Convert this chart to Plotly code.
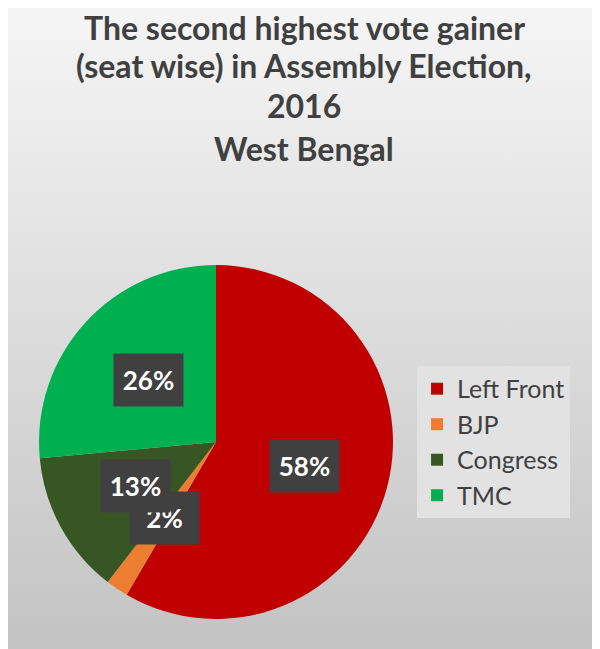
import math
import urllib.parse

import plotly.graph_objects as go

# second-place finishes (seats), West Bengal assembly election 2016
parties = ["Left Front", "BJP", "Congress", "TMC"]
seats = [170, 6, 38, 77]
colors = ["#C00000", "#ED7D31", "#375623", "#00B050"]

title_lines = [
    "The second highest vote gainer",
    "(seat wise) in Assembly Election,",
    "2016",
    "West Bengal",
]

# page body adds 8px margin, so the figure is drawn a bit smaller
W, H = 592, 641
FONT = "Lato, Open Sans, sans-serif"
pie_x = [0.0524, 0.6503]
pie_y = [0.0468, 0.599]

# soft vertical gradient for the chart area, as an inline svg
bg_svg = (
    '<svg xmlns="http://www.w3.org/2000/svg" width="592" height="641">'
    '<defs><linearGradient id="g" x1="0" y1="0" x2="0" y2="1">'
    '<stop offset="0" stop-color="#f5f5f5"/><stop offset="1" stop-color="#c3c3c3"/>'
    '</linearGradient></defs>'
    '<rect width="592" height="641" fill="url(#g)"/></svg>'
)
bg_uri = "data:image/svg+xml;charset=utf-8," + urllib.parse.quote(bg_svg)

fig = go.Figure(go.Pie(
    labels=parties,
    values=seats,
    marker=dict(colors=colors, line=dict(width=0)),
    sort=False,
    direction="clockwise",
    rotation=0,
    textinfo="none",
    hoverinfo="label+percent",
    domain=dict(x=pie_x, y=pie_y),
))

# percentage labels in dark boxes, placed at mid-angle of each slice
total = sum(seats)
cx = (pie_x[0] + pie_x[1]) / 2 * W
cy = (pie_y[0] + pie_y[1]) / 2 * H
r = (pie_x[1] - pie_x[0]) / 2 * W
start = 0.0
for party, v in zip(parties, seats):
    frac = v / total
    mid = (start + frac / 2) * 2 * math.pi
    start += frac
    px = cx + 0.52 * r * math.sin(mid)
    py = cy + 0.52 * r * math.cos(mid)
    fig.add_annotation(
        x=px / W, y=py / H, xref="paper", yref="paper",
        xanchor="center", yanchor="middle",
        text="<b>%d%%</b>" % round(frac * 100),
        showarrow=False,
        font=dict(family=FONT, size=26, color="white"),
        bgcolor="#404040",
        width=69,
        height=52,
        borderpad=0,
    )

# title, one annotation per line to get the wide line spacing
# (first line hangs from the top edge so it is not clipped)
title_y = [None, 58, 98, 140]
for line, ty in zip(title_lines, title_y):
    extra = dict(y=1, yanchor="top", height=37, borderpad=0) if ty is None \
        else dict(y=1 - ty / H, yanchor="middle")
    fig.add_annotation(
        x=0.5, xref="paper", yref="paper", xanchor="center",
        text="<b>%s</b>" % line,
        showarrow=False,
        font=dict(family=FONT, size=32, color="#404040"),
        **extra,
    )

fig.update_layout(
    width=W,
    height=H,
    margin=dict(l=0, r=0, t=0, b=0),
    paper_bgcolor="#e6e6e6",
    legend=dict(
        x=0.691,
        y=0.323,
        xanchor="left",
        yanchor="middle",
        bgcolor="#e2e2e2",
        font=dict(family=FONT, size=25, color="#404040"),
        itemwidth=30,
        tracegroupgap=0,
    ),
    images=[dict(
        source=bg_uri,
        xref="paper", yref="paper",
        x=0, y=1, sizex=1, sizey=1,
        xanchor="left", yanchor="top",
        sizing="stretch",
        layer="below",
    )],
)

fig.write_html("out.html")
